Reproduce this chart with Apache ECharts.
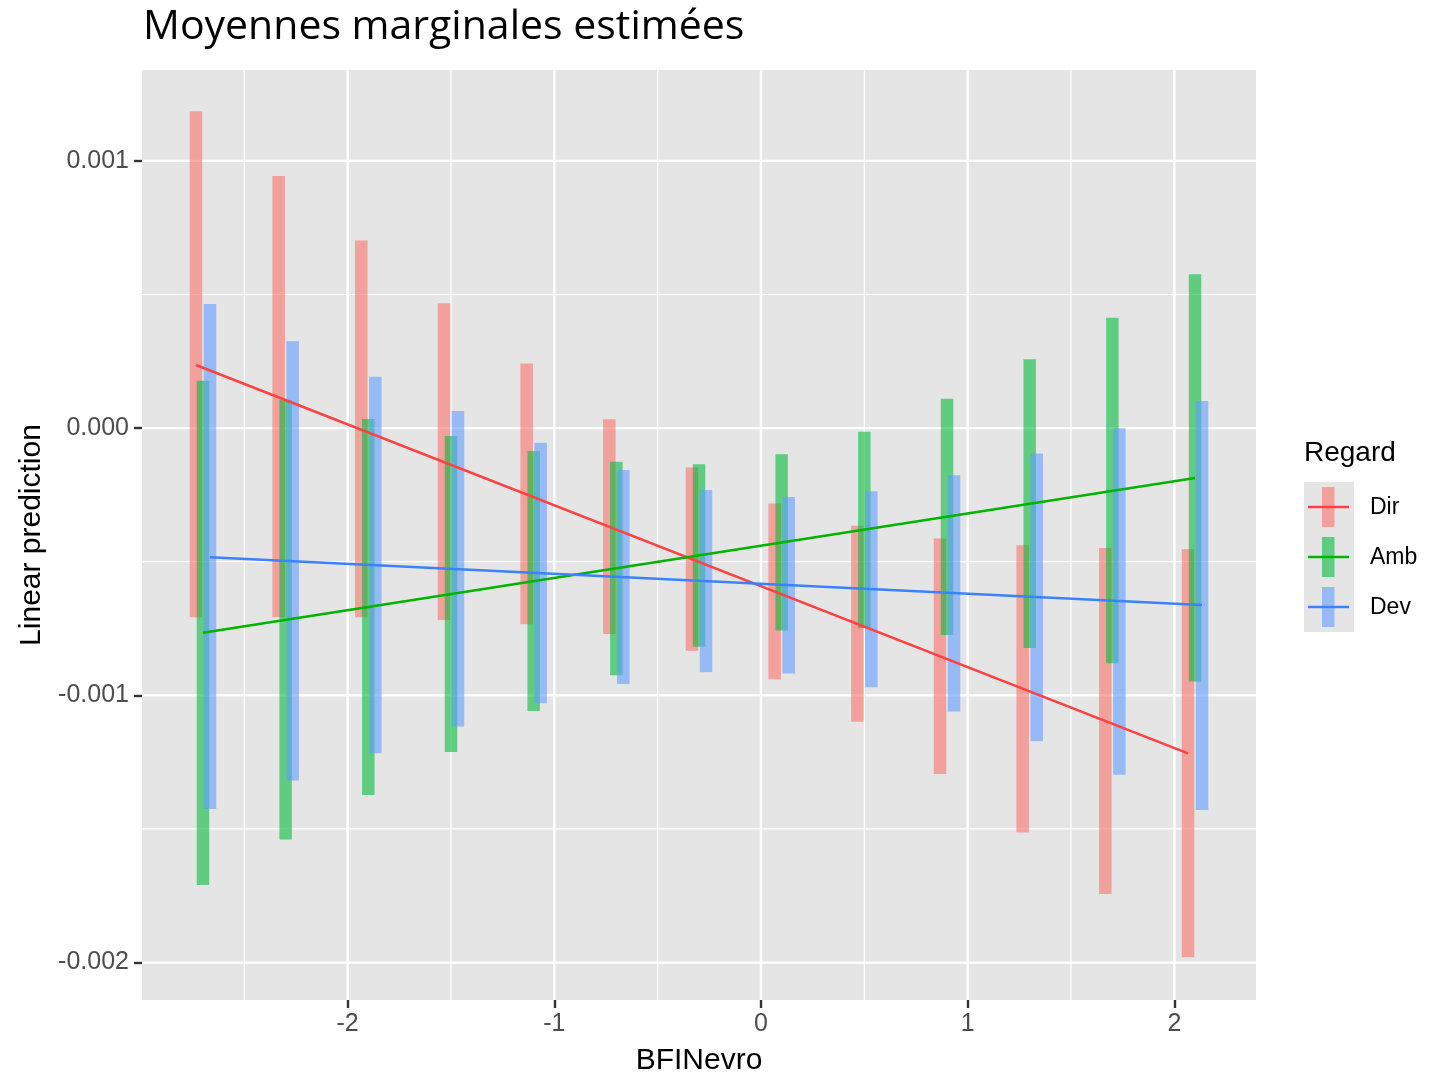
<!DOCTYPE html>
<html>
<head>
<meta charset="utf-8">
<script src="https://cdn.jsdelivr.net/npm/echarts@6/dist/echarts.min.js"></script>
<style>html,body{margin:0;padding:0;background:#fff}#c{width:1448px;height:1075px}</style>
</head>
<body>
<div id="c"></div>
<script>
// ---- data ----
const regard = ['Dir', 'Amb', 'Dev'];
const bfiNevro = [-2.7, -2.3, -1.9, -1.5, -1.1, -0.7, -0.3, 0.1, 0.5, 0.9, 1.3, 1.7, 2.1];
const dirUpper = [0.001186, 0.000943, 0.000702, 0.000467, 0.000242, 0.000033, -0.000147, -0.000282, -0.000365, -0.000413, -0.000438, -0.000449, -0.000453];
const dirLower = [-0.000708, -0.000708, -0.000708, -0.000718, -0.000734, -0.000770, -0.000833, -0.000940, -0.001099, -0.001294, -0.001513, -0.001743, -0.001980];
const ambUpper = [0.000177, 0.000105, 0.000034, -0.000030, -0.000086, -0.000126, -0.000135, -0.000098, -0.000014, 0.000110, 0.000258, 0.000413, 0.000576];
const ambLower = [-0.001710, -0.001539, -0.001373, -0.001212, -0.001059, -0.000925, -0.000818, -0.000757, -0.000748, -0.000774, -0.000823, -0.000880, -0.000948];
const devUpper = [0.000464, 0.000325, 0.000192, 0.000064, -0.000055, -0.000157, -0.000232, -0.000258, -0.000236, -0.000176, -0.000095, -0.000001, 0.000101];
const devLower = [-0.001425, -0.001319, -0.001217, -0.001117, -0.001030, -0.000958, -0.000914, -0.000918, -0.000970, -0.001060, -0.001172, -0.001297, -0.001429];
// fitted lines: values at first and last BFINevro
const fitX = [-2.7, 2.1];
const dirFit = [0.000236, -0.001217];
const ambFit = [-0.000766, -0.000187];
const devFit = [-0.000483, -0.000662];
// axis ticks
const xMajor = [-2, -1, 0, 1, 2];
const xMinor = [-2.5, -1.5, -0.5, 0.5, 1.5];
const yMajor = [0.001, 0, -0.001, -0.002];
const yMinor = [0.0005, -0.0005, -0.0015];

// ---- styles ----
const barFill = ['rgba(248,118,109,0.62)', 'rgba(0,186,56,0.58)', 'rgba(97,156,255,0.6)'];
const lineCol = ['#FF4242', '#00B400', '#3A82FF'];
const dodgePx = [-7, 0, 7];
const FONT = "'Liberation Sans', Arial, sans-serif";

const uppers = [dirUpper, ambUpper, devUpper];
const lowers = [dirLower, ambLower, devLower];
const fits = [dirFit, ambFit, devFit];

function barSeries(g) {
  return {
    type: 'custom', name: regard[g], z: 3 + g,
    data: bfiNevro.map((x, i) => [x, lowers[g][i], uppers[g][i]]),
    encode: {x: 0, y: [1, 2]},
    renderItem: function (params, api) {
      const x = api.value(0);
      const pHi = api.coord([x, api.value(2)]);
      const pLo = api.coord([x, api.value(1)]);
      const w = 12.5;
      return {
        type: 'rect',
        shape: {x: pHi[0] + dodgePx[g] - w / 2, y: pHi[1], width: w, height: pLo[1] - pHi[1]},
        style: {fill: barFill[g]}
      };
    }
  };
}
function lineSeries(g) {
  return {
    type: 'custom', name: regard[g] + ' fit', z: 10,
    data: fitX.map((x, i) => [x, fits[g][i]]),
    encode: {x: 0, y: 1},
    renderItem: function (params, api) {
      if (params.dataIndex !== 0) return null;
      const pts = fitX.map((x, i) => {
        const p = api.coord([x, fits[g][i]]);
        return [p[0] + dodgePx[g], p[1]];
      });
      return {type: 'polyline', shape: {points: pts}, style: {stroke: lineCol[g], lineWidth: 2.6, fill: null}};
    }
  };
}
function gridSeries() {
  const items = [];
  xMajor.forEach(v => items.push([0, v, 2.4]));
  xMinor.forEach(v => items.push([0, v, 1.2]));
  yMajor.forEach(v => items.push([1, v, 2.4]));
  yMinor.forEach(v => items.push([1, v, 1.2]));
  return {
    type: 'custom', z: 1, silent: true,
    data: items,
    renderItem: function (params, api) {
      const cs = params.coordSys;
      const dir = api.value(0), v = api.value(1), w = api.value(2);
      let shape;
      if (dir === 0) {
        const p = api.coord([v, 0]);
        shape = {x1: p[0], y1: cs.y, x2: p[0], y2: cs.y + cs.height};
      } else {
        const p = api.coord([0, v]);
        shape = {x1: cs.x, y1: p[1], x2: cs.x + cs.width, y2: p[1]};
      }
      return {type: 'line', shape: shape, style: {stroke: '#FFFFFF', lineWidth: w}};
    }
  };
}

// legend graphics
const legendGraphics = [
  {type: 'text', left: 1304, top: 439, style: {text: 'Regard', font: "28px " + FONT, fill: '#000'}},
  {type: 'rect', left: 1304, top: 482, shape: {width: 50, height: 150}, style: {fill: '#E5E5E5'}}
];
regard.forEach((name, g) => {
  const cy = 507 + g * 50;
  legendGraphics.push({type: 'rect', left: 1322, top: cy - 20, shape: {width: 12.5, height: 40}, style: {fill: barFill[g]}});
  legendGraphics.push({type: 'line', shape: {x1: 1308, y1: cy, x2: 1349, y2: cy}, style: {stroke: lineCol[g], lineWidth: 2.6}});
  legendGraphics.push({type: 'text', left: 1370, top: cy - 11, style: {text: name, font: "23px " + FONT, fill: '#000'}});
});

const chart = echarts.init(document.getElementById('c'), null, {renderer: 'canvas'});
chart.setOption({
  animation: false,
  backgroundColor: '#FFFFFF',
  title: {
    text: 'Moyennes marginales estimées', left: 138, top: 2,
    textStyle: {fontFamily: "'Open Sans', sans-serif", fontSize: 41, fontWeight: 'normal', color: '#000'}
  },
  grid: {left: 142, right: 192, top: 70, bottom: 75, show: true, backgroundColor: '#E5E5E5', borderWidth: 0, containLabel: false, outerBoundsMode: 'none'},
  xAxis: {
    type: 'value', min: -2.995, max: 2.395,
    name: 'BFINevro', nameLocation: 'middle', nameGap: 46,
    nameTextStyle: {fontFamily: FONT, fontSize: 30, color: '#000'},
    axisLine: {show: false, onZero: false},
    axisTick: {show: true, customValues: xMajor, length: 8, lineStyle: {color: '#333', width: 2.4}},
    axisLabel: {customValues: xMajor, fontFamily: FONT, fontSize: 25, color: '#4D4D4D', margin: 12, formatter: v => String(v)},
    splitLine: {show: false}
  },
  yAxis: {
    type: 'value', min: -0.00214, max: 0.00134,
    name: 'Linear prediction', nameLocation: 'middle', nameGap: 95, nameRotate: 90,
    nameTextStyle: {fontFamily: FONT, fontSize: 30, color: '#000'},
    axisLine: {show: false, onZero: false},
    axisTick: {show: true, customValues: yMajor, length: 8, lineStyle: {color: '#333', width: 2.4}},
    axisLabel: {customValues: yMajor, fontFamily: FONT, fontSize: 25, color: '#4D4D4D', margin: 13, formatter: v => Number(v).toFixed(3)},
    splitLine: {show: false}
  },
  graphic: legendGraphics,
  series: [gridSeries(), barSeries(0), barSeries(1), barSeries(2), lineSeries(0), lineSeries(1), lineSeries(2)]
});
</script>
</body>
</html>
